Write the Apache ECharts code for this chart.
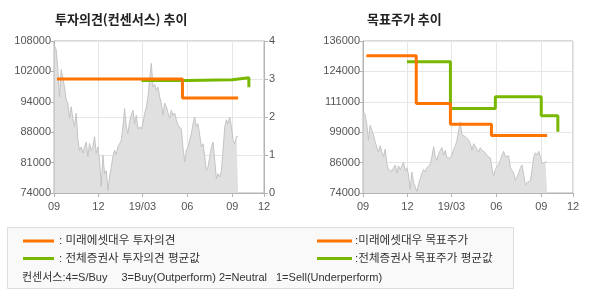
<!DOCTYPE html>
<html><head><meta charset="utf-8">
<script src="https://cdn.jsdelivr.net/npm/echarts@6/dist/echarts.min.js"></script>
<style>html,body{margin:0;padding:0;background:#fff}#c{width:590px;height:300px}</style>
</head><body><div id="c"></div>
<script>
// ---- data ----
const xTickDates = ['2018-09-01', '2018-12-01', '2019-03-01', '2019-06-01', '2019-09-01', '2019-11-05'];
const xTickLabels = ['09', '12', '19/03', '06', '09', '12'];

// price readings, one every ~3.4 days starting 2018-09-02
const priceSampleStart = '2018-09-02';
const priceSampleDays = 3.418;
const prices = [
  107000, 106000, 101900, 95500, 101600, 101800, 97700, 94800, 94100, 90700,
  93300, 90700, 88800, 91900, 86000, 83500, 84300, 82900, 84300, 85400,
  82100, 85100, 83500, 84300, 86600, 82900, 84300, 81300, 75500, 82500,
  78300, 79000, 74600, 77600, 79800, 82100, 83600, 82600, 84300, 85000,
  85800, 88800, 92900, 88800, 87300, 90000, 91400, 92500, 89500, 91400,
  88300, 88800, 88300, 89500, 91800, 93200, 95500, 99300, 103000, 97700,
  98300, 97000, 97700, 95500, 94100, 91400, 94100, 93300, 91900, 90700,
  92500, 91400, 91900, 90400, 89200, 88800, 88300, 84000, 81000, 83600,
  84300, 85800, 87300, 89500, 91000, 88800, 89500, 89200, 84300, 85000,
  82100, 79100, 79800, 82100, 84300, 85400, 81300, 77200, 78300, 77600,
  79000, 83600, 88800, 90400, 89500, 91000, 88800, 85800, 85000, 86600,
  86700
];

const leftPriceTicks = [74000, 80800, 87600, 94400, 101200, 108000];
const leftPriceTickLabels = ['74000', '81000', '88000', '94000', '102000', '108000'];
const rightPriceTicks = [74000, 86400, 98800, 111200, 123600, 136000];
const rightPriceTickLabels = ['74000', '86000', '99000', '111000', '124000', '136000'];

const miraeOpinion = [['2018-09-07', 3], ['2019-05-22', 2.5], ['2019-09-13', 2.5]];
const consensusOpinion = [['2019-02-27', 2.96], ['2019-05-30', 2.98], ['2019-09-01', 3.03], ['2019-10-05', 2.78]];
const miraeTarget = [['2018-09-08', 130000], ['2018-12-19', 110500], ['2019-02-27', 102000], ['2019-05-22', 97500], ['2019-09-13', 97500]];
const consensusTarget = [['2018-11-30', 127500], ['2019-02-27', 108500], ['2019-05-30', 113300], ['2019-09-01', 105500], ['2019-10-05', 99000]];

const titleLeft = '투자의견(컨센서스) 추이';
const titleRight = '목표주가 추이';
const legendTexts = [': 미래에셋대우 투자의견', ': 전체증권사 투자의견 평균값', ':미래에셋대우 목표주가', ':전체증권사 목표주가 평균값'];
const noteTexts = ['컨센서스:4=S/Buy', '3=Buy(Outperform)', '2=Neutral', '1=Sell(Underperform)'];

// ---- build ----
const DAY = 86400000;
const ts = s => new Date(s + 'T00:00:00Z').getTime();
const xTicks = xTickDates.map(ts);
const priceData = prices.map((v, i) => [ts(priceSampleStart) + i * priceSampleDays * DAY, v]);
const conv = arr => arr.map(d => [ts(d[0]), d[1]]);

const ORANGE = '#ff7400', GREEN = '#78b800';
const AX = '#b4b4b4', GRID = '#e6e6e6', LBL = '#555';
const FONT = '"Liberation Sans", "Noto Sans CJK KR", sans-serif';
const KFONT = '"Noto Sans CJK KR", sans-serif';

function nearestLabel(v, ticks, labels) {
  let bi = 0, bd = Infinity;
  ticks.forEach((t, i) => { const d = Math.abs(t - v); if (d < bd) { bd = d; bi = i; } });
  return labels[bi];
}

function xAxisDef(gi) {
  return {
    type: 'value', gridIndex: gi, min: xTicks[0], max: xTicks[xTicks.length - 1],
    axisLine: { show: true, lineStyle: { color: AX, width: 1 } },
    axisTick: { show: true, length: 4, lineStyle: { color: AX }, customValues: xTicks },
    axisLabel: { color: LBL, fontSize: 11, fontFamily: FONT, margin: 8, customValues: xTicks,
      formatter: v => nearestLabel(v, xTicks, xTickLabels) },
    splitLine: { show: true, lineStyle: { color: GRID, width: 1 } }
  };
}

const stepSeries = (name, data, color, xi, yi) => ({
  type: 'line', name, data: conv(data), xAxisIndex: xi, yAxisIndex: yi, step: 'end',
  showSymbol: false, symbol: 'none', lineStyle: { color, width: 3 }, z: 5, silent: true
});
const priceSeries = (xi, yi) => ({
  type: 'line', data: priceData, xAxisIndex: xi, yAxisIndex: yi, showSymbol: false, symbol: 'none',
  lineStyle: { color: '#c4c4c4', width: 1 }, areaStyle: { color: '#e0e0e0', opacity: 1 }, z: 2, silent: true
});

const legendGraphics = [
  { type: 'rect', shape: { x: 7.5, y: 227.5, width: 506, height: 61 }, style: { fill: '#f9f9f9', stroke: '#dddddd', lineWidth: 1 } },
  { type: 'line', shape: { x1: 23, y1: 241, x2: 54, y2: 241 }, style: { stroke: ORANGE, lineWidth: 3 } },
  { type: 'line', shape: { x1: 23, y1: 258.5, x2: 54, y2: 258.5 }, style: { stroke: GREEN, lineWidth: 3 } },
  { type: 'line', shape: { x1: 317, y1: 241, x2: 352, y2: 241 }, style: { stroke: ORANGE, lineWidth: 3 } },
  { type: 'line', shape: { x1: 317, y1: 258.5, x2: 352, y2: 258.5 }, style: { stroke: GREEN, lineWidth: 3 } }
];
[[59, 241], [59, 258.5], [355, 241], [355, 258.5]].forEach((p, i) => {
  legendGraphics.push({ type: 'text', x: p[0], y: p[1], style: { text: legendTexts[i], fontSize: 11.6, fontFamily: FONT, fill: '#333', align: 'left', verticalAlign: 'middle' } });
});
[22, 121.5, 219, 276].forEach((x, i) => {
  legendGraphics.push({ type: 'text', x: x, y: 277.5, style: { text: noteTexts[i], fontSize: 11, fontFamily: FONT, fill: '#333', align: 'left', verticalAlign: 'middle' } });
});

const option = {
  animation: false,
  backgroundColor: '#fff',
  title: [
    { text: titleLeft, left: 55, top: 13, padding: 0, textStyle: { fontSize: 13, fontWeight: 'bold', color: '#222', fontFamily: KFONT } },
    { text: titleRight, left: 367, top: 13, padding: 0, textStyle: { fontSize: 13, fontWeight: 'bold', color: '#222', fontFamily: KFONT } }
  ],
  grid: [
    { left: 54, top: 41, width: 210, height: 152, show: true, borderColor: AX, borderWidth: 1, backgroundColor: 'transparent' },
    { left: 363, top: 41, width: 210, height: 152, show: true, borderColor: AX, borderWidth: 1, backgroundColor: 'transparent' }
  ],
  xAxis: [xAxisDef(0), xAxisDef(1)],
  yAxis: [
    { type: 'value', gridIndex: 0, position: 'left', min: leftPriceTicks[0], max: leftPriceTicks[leftPriceTicks.length - 1],
      axisLine: { show: true, lineStyle: { color: AX } },
      axisTick: { show: true, length: 3, lineStyle: { color: AX }, customValues: leftPriceTicks },
      axisLabel: { color: LBL, fontSize: 11, fontFamily: FONT, margin: 3, customValues: leftPriceTicks,
        formatter: v => nearestLabel(v, leftPriceTicks, leftPriceTickLabels) },
      splitLine: { show: false } },
    { type: 'value', gridIndex: 0, position: 'right', min: 0, max: 4, interval: 1,
      axisLine: { show: true, lineStyle: { color: AX } },
      axisTick: { show: true, length: 4, lineStyle: { color: AX } },
      axisLabel: { color: LBL, fontSize: 11, fontFamily: FONT, margin: 5 },
      splitLine: { show: true, lineStyle: { color: GRID, width: 1 } } },
    { type: 'value', gridIndex: 1, position: 'left', min: rightPriceTicks[0], max: rightPriceTicks[rightPriceTicks.length - 1],
      axisLine: { show: true, lineStyle: { color: AX } },
      axisTick: { show: true, length: 3, lineStyle: { color: AX }, customValues: rightPriceTicks },
      axisLabel: { color: LBL, fontSize: 11, fontFamily: FONT, margin: 3, customValues: rightPriceTicks,
        formatter: v => nearestLabel(v, rightPriceTicks, rightPriceTickLabels) },
      splitLine: { show: true, lineStyle: { color: GRID, width: 1 } } }
  ],
  series: [
    priceSeries(0, 0),
    stepSeries('전체증권사 투자의견 평균값', consensusOpinion, GREEN, 0, 1),
    stepSeries('미래에셋대우 투자의견', miraeOpinion, ORANGE, 0, 1),
    priceSeries(1, 2),
    stepSeries('전체증권사 목표주가 평균값', consensusTarget, GREEN, 1, 2),
    stepSeries('미래에셋대우 목표주가', miraeTarget, ORANGE, 1, 2)
  ],
  graphic: legendGraphics
};

const chart = echarts.init(document.getElementById('c'), null, { renderer: 'canvas' });
chart.setOption(option);
</script>
</body></html>
